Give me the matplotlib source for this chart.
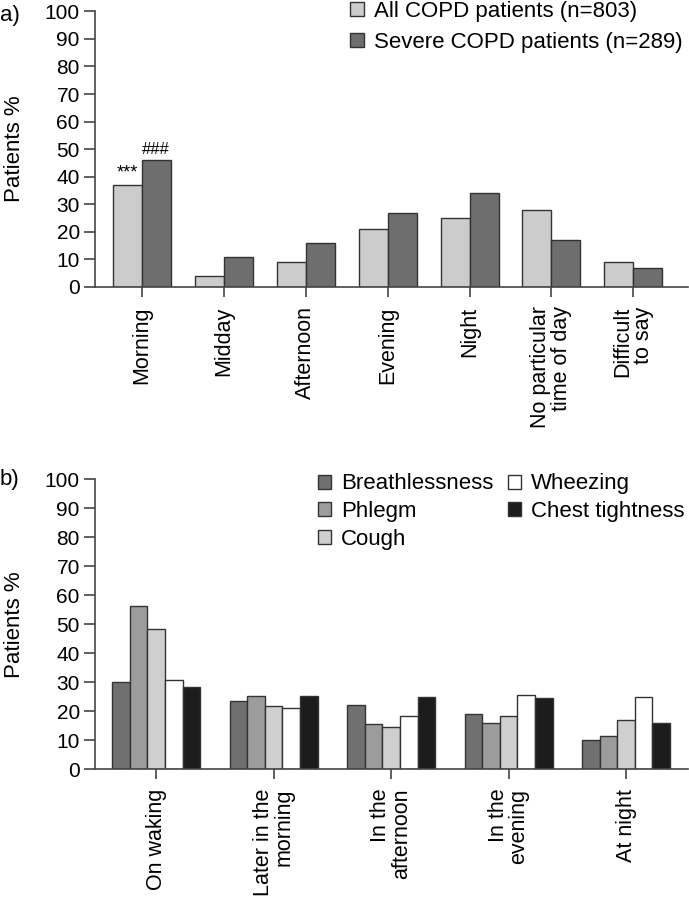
import matplotlib
matplotlib.use('Agg')
import matplotlib.pyplot as plt
import numpy as np

plt.rcParams['font.family'] = ['Liberation Sans', 'DejaVu Sans']

# Panel a data
timesA = ['Morning', 'Midday', 'Afternoon', 'Evening', 'Night',
          'No particular\ntime of day', 'Difficult\nto say']
allCopd = [37, 4, 9, 21, 25, 28, 9]
severeCopd = [46, 11, 16, 27, 34, 17, 7]
seriesA = ['All COPD patients (n=803)', 'Severe COPD patients (n=289)']

# Panel b data
timesB = ['On waking', 'Later in the\nmorning', 'In the\nafternoon',
          'In the\nevening', 'At night']
symptoms = ['Breathlessness', 'Phlegm', 'Cough', 'Wheezing', 'Chest tightness']
breathlessness = [30.0, 23.6, 22.0, 19.0, 10.2]
phlegm = [56.3, 25.3, 15.6, 16.1, 11.6]
cough = [48.4, 21.8, 14.6, 18.3, 17.1]
wheezing = [30.7, 21.1, 18.2, 25.6, 24.9]
chest = [28.2, 25.1, 24.9, 24.7, 16.1]

colorsA = ['#cccccc', '#6e6e6e']
colorsB = ['#707070', '#9c9c9c', '#cfcfcf', '#ffffff', '#1c1c1c']
edge = '#333333'
axcol = '#444444'


def styleAxis(ax, labels):
    ax.set_ylim(0, 100)
    ax.set_yticks(range(0, 101, 10))
    ax.spines['top'].set_visible(False)
    ax.spines['right'].set_visible(False)
    for s in ('left', 'bottom'):
        ax.spines[s].set_color(axcol)
        ax.spines[s].set_linewidth(1.2)
    ax.tick_params(axis='y', direction='out', length=8, width=1.2, color=axcol,
                   labelsize=15, pad=3)
    ax.tick_params(axis='x', direction='out', length=7, width=1.2, color=axcol,
                   labelsize=15.5, pad=7)
    ax.set_xticks(np.arange(len(labels)))
    ax.set_xticklabels(labels, rotation=90, va='top', ha='center',
                       multialignment='right', linespacing=1.0)
    ax.set_ylabel('Patients %', fontsize=16)
    ax.yaxis.set_label_coords(-0.118, 0.5)


fig = plt.figure(figsize=(6.89, 8.99), dpi=100)

# %% Panel a
axA = fig.add_axes([0.138, 0.6808, 0.861, 0.3066])
x = np.arange(len(timesA))
w = 0.354
b1 = axA.bar(x - w/2, allCopd, w, color=colorsA[0], edgecolor=edge, linewidth=1)
b2 = axA.bar(x + w/2, severeCopd, w, color=colorsA[1], edgecolor=edge, linewidth=1)
axA.set_xlim(-0.57, 6.67)
styleAxis(axA, timesA)
axA.text(x[0] - w/2, allCopd[0] + 1.2, '***', ha='center', va='bottom', fontsize=13)
axA.text(x[0] + w/2, severeCopd[0] + 1.2, '###', ha='center', va='bottom', fontsize=12)
axA.legend((b1, b2), seriesA, loc='upper left', bbox_to_anchor=(0.43, 1.038),
           frameon=False, fontsize=16, handlelength=0.6, handleheight=0.6,
           handletextpad=0.45, labelspacing=0.45, borderaxespad=0, borderpad=0)
fig.text(0.0, 0.983, 'a)', fontsize=16, va='center')

# %% Panel b
axB = fig.add_axes([0.138, 0.1443, 0.861, 0.3226])
x = np.arange(len(timesB))
w = 0.15
bars = []
for i, vals in enumerate([breathlessness, phlegm, cough, wheezing, chest]):
    bars.append(axB.bar(x + (i - 2) * w, vals, w, color=colorsB[i],
                        edgecolor=edge, linewidth=1))
axB.set_xlim(-0.52, 4.53)
styleAxis(axB, timesB)
axB.legend(bars, symptoms, ncol=2, loc='upper left', bbox_to_anchor=(0.375, 1.02),
           frameon=False, fontsize=16, handlelength=0.6, handleheight=0.6,
           handletextpad=0.45, labelspacing=0.3, columnspacing=0.65,
           borderaxespad=0, borderpad=0)
fig.text(0.0, 0.467, 'b)', fontsize=16, va='center')

plt.savefig('out.png', dpi=100)
